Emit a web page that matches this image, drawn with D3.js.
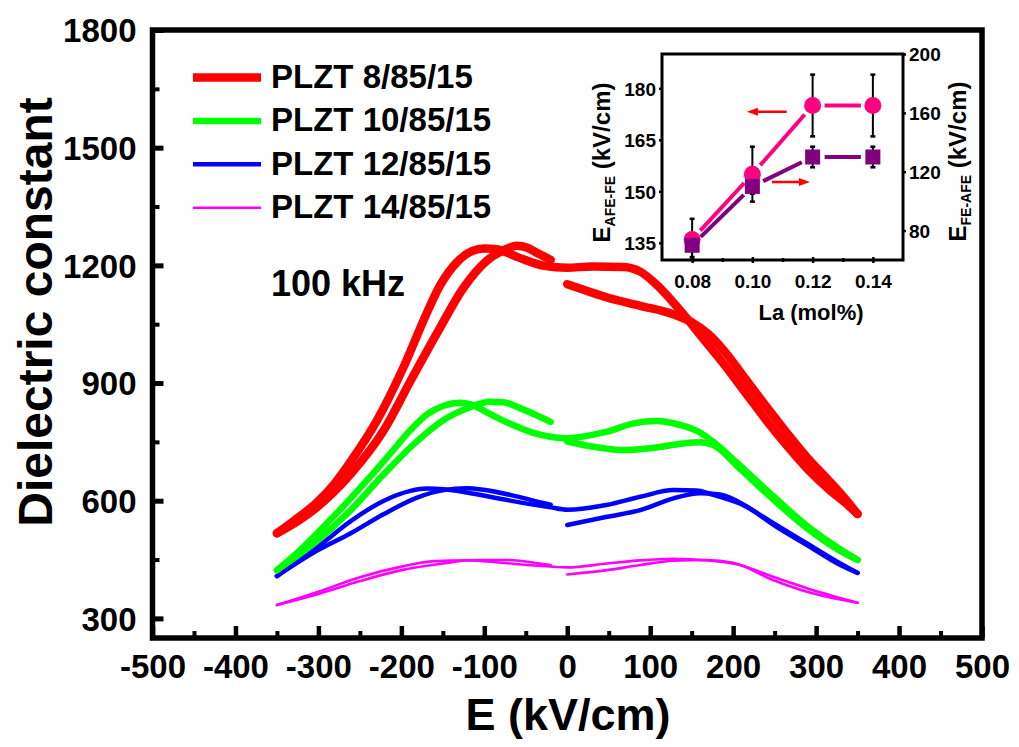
<!DOCTYPE html>
<html>
<head>
<meta charset="utf-8">
<script src="https://cdn.jsdelivr.net/npm/d3@7"></script>
<style>
  html, body { margin: 0; padding: 0; background: #fff; }
  svg text { font-family: "Liberation Sans", Arial, Helvetica, sans-serif; font-weight: bold; fill: #000; }
</style>
</head>
<body>
<svg id="chart" width="1019" height="747"></svg>
<script>
// ---- Main panel: dielectric constant vs. field, 100 kHz ----
const sampleNames = ["PLZT 8/85/15", "PLZT 10/85/15", "PLZT 12/85/15", "PLZT 14/85/15"];
const sampleColors = ["#ff0000", "#00ff00", "#0000ff", "#ff00ff"];

// [E (kV/cm), dielectric constant]; A runs -350 → +350, B is the other negative branch, C the other positive branch
const pl8_A = [[-350,517],[-330,548],[-302,595],[-280,645],[-261,700],[-229,806],[-197,942],[-169,1080],[-153,1150],[-133,1208],[-115,1236],[-100,1243],[-85,1241],[-61,1222],[-28,1199],[0,1194],[30,1197],[68,1196],[88,1184],[108,1150],[128,1105],[144,1065],[165,1010],[190,945],[215,875],[240,805],[265,740],[290,680],[315,630],[335,595],[350,566]];
const pl8_B = [[-350,517],[-325,548],[-302,583],[-261,668],[-221,780],[-189,905],[-157,1027],[-125,1143],[-97,1212],[-77,1238],[-61,1250],[-48,1245],[-35,1230],[-20,1214]];
const pl8_C = [[0,1152],[25,1134],[48,1118],[88,1097],[128,1075],[150,1055],[170,1025],[190,980],[215,910],[240,840],[265,772],[290,708],[315,652],[335,605],[350,566]];

const pl10_A = [[-350,423],[-322,474],[-282,559],[-241,653],[-213,721],[-189,780],[-169,820],[-149,842],[-129,850],[-117,846],[-101,830],[-81,808],[-61,789],[-41,773],[-20,763],[0,759],[25,766],[48,776],[80,797],[108,803],[136,793],[160,774],[176,750],[208,690],[248,612],[289,536],[329,476],[350,449]];
const pl10_B = [[-350,423],[-302,497],[-261,576],[-221,668],[-181,752],[-149,806],[-121,835],[-93,852],[-77,851],[-57,836],[-37,818],[-20,801]];
const pl10_C = [[0,751],[28,739],[68,729],[108,736],[140,746],[160,749],[176,742],[208,682],[248,604],[289,530],[329,472],[350,449]];

const pl12_A = [[-350,408],[-302,480],[-261,548],[-221,600],[-189,625],[-169,631],[-149,629],[-121,621],[-81,605],[-41,590],[-20,583],[0,577],[47,589],[88,610],[128,627],[156,626],[176,615],[208,593],[249,542],[289,491],[329,440],[350,416]];
const pl12_B = [[-350,408],[-302,472],[-261,517],[-221,566],[-181,608],[-149,627],[-121,632],[-101,628],[-61,611],[-31,595],[-20,590]];
const pl12_C = [[0,538],[48,559],[88,576],[128,606],[160,619],[184,616],[216,586],[249,538],[289,487],[329,436],[350,416]];

const pl14_A = [[-350,334],[-300,368],[-250,405],[-200,432],[-160,446],[-120,448],[-80,442],[-40,435],[0,430],[48,440],[88,448],[128,452],[168,448],[208,436],[248,406],[289,377],[350,340]];
const pl14_B = [[-350,334],[-300,362],[-250,395],[-200,423],[-150,440],[-110,449],[-70,449],[-40,442],[-20,436]];
const pl14_C = [[0,412],[48,423],[88,436],[128,447],[168,449],[200,442],[248,398],[289,368],[350,340]];

const xTicksMajor = [-500,-400,-300,-200,-100,0,100,200,300,400,500];
const xTicksMinor = [-450,-350,-250,-150,-50,50,150,250,350,450];
const yTicksMajor = [300,600,900,1200,1500,1800];
const yTicksMinor = [450,750,1050,1350,1650];

// ---- Inset: switching fields vs. La content ----
const laContent = [0.08, 0.10, 0.12, 0.14];
const eAfeFe = [136, 155, 175, 175];
const eAfeFeErr = [6, 8, 9, 9];
const eFeAfe = [70, 110, 130, 130];
const eFeAfeErr = [8, 5, 7, 7];
const insetXTicks = [0.08, 0.10, 0.12, 0.14];
const insetXMinor = [0.09, 0.11, 0.13];
const insetLeftTicks = [135, 150, 165, 180];
const insetRightTicks = [80, 120, 160, 200];

const svg = d3.select("#chart");

const x = d3.scaleLinear().domain([-500, 500]).range([152.5, 982]);
const y = d3.scaleLinear().domain([250, 1800]).range([638, 30]);

const series = [
  { name: sampleNames[0], color: sampleColors[0], width: 8.5, paths: [pl8_A, pl8_B, pl8_C] },
  { name: sampleNames[1], color: sampleColors[1], width: 6.5, paths: [pl10_A, pl10_B, pl10_C] },
  { name: sampleNames[2], color: sampleColors[2], width: 4.5, paths: [pl12_A, pl12_B, pl12_C] },
  { name: sampleNames[3], color: sampleColors[3], width: 2.6, paths: [pl14_A, pl14_B, pl14_C] }
];

const line = d3.line().x(d => x(d[0])).y(d => y(d[1])).curve(d3.curveMonotoneX);

// curves, thinnest first so the heavy red traces sit on top
series.slice().reverse().forEach(s => {
  s.paths.forEach(p => {
    svg.append("path")
      .attr("d", line(p))
      .attr("fill", "none")
      .attr("stroke", s.color)
      .attr("stroke-width", s.width)
      .attr("stroke-linecap", "round")
      .attr("stroke-linejoin", "round");
  });
});

// axes (ticks point inward)
function styleAxis(g, w) {
  g.attr("font-family", null).attr("font-size", null);
  g.select(".domain").remove();
  g.selectAll(".tick line").attr("stroke", "#000").attr("stroke-width", w);
}

const gy = svg.append("g").attr("transform", `translate(${x(-500)},0)`)
  .call(d3.axisLeft(y).tickValues(yTicksMajor).tickSize(-11).tickPadding(16).tickFormat(d => String(d)));
styleAxis(gy, 5);
gy.selectAll(".tick text").attr("font-size", 33).attr("dy", "0.36em");

const gyMinor = svg.append("g").attr("transform", `translate(${x(-500)},0)`)
  .call(d3.axisLeft(y).tickValues(yTicksMinor).tickSize(-7).tickFormat(""));
styleAxis(gyMinor, 4);

const gx = svg.append("g").attr("transform", `translate(0,${y(250)})`)
  .call(d3.axisBottom(x).tickValues(xTicksMajor).tickSize(-12).tickFormat(d => String(d)));
styleAxis(gx, 4.5);
gx.selectAll(".tick text").attr("font-size", 33).attr("y", 40).attr("dy", 0);

const gxMinor = svg.append("g").attr("transform", `translate(0,${y(250)})`)
  .call(d3.axisBottom(x).tickValues(xTicksMinor).tickSize(-7).tickFormat(""));
styleAxis(gxMinor, 4);

// frame
svg.append("rect")
  .attr("x", x(-500)).attr("y", y(1800))
  .attr("width", x(500) - x(-500)).attr("height", y(250) - y(1800))
  .attr("fill", "none").attr("stroke", "#000").attr("stroke-width", 5.5);

// axis titles
svg.append("text")
  .attr("x", 568).attr("y", 730)
  .attr("text-anchor", "middle").attr("font-size", 45)
  .text("E (kV/cm)");

svg.append("text")
  .attr("transform", "translate(52,312) rotate(-90)")
  .attr("text-anchor", "middle").attr("font-size", 48)
  .text("Dielectric constant");

// frequency note
svg.append("text").attr("x", 271).attr("y", 296).attr("font-size", 36).text("100 kHz");

// legend
const legend = svg.append("g");
series.forEach((s, i) => {
  const base = 88 + i * 43.4;
  legend.append("line")
    .attr("x1", 193).attr("x2", 261)
    .attr("y1", base - 10.5).attr("y2", base - 10.5)
    .attr("stroke", s.color).attr("stroke-width", s.width);
  legend.append("text")
    .attr("x", 271).attr("y", base).attr("font-size", 33)
    .text(s.name);
});

// ---- inset ----
const ix = d3.scaleLinear().domain([0.07, 0.15]).range([662, 903]);
const iyL = d3.scaleLinear().domain([130, 190]).range([260, 54]);
const iyR = d3.scaleLinear().domain([60, 200]).range([260, 54]);
const inset = svg.append("g");

const giL = inset.append("g").attr("transform", `translate(${ix(0.07)},0)`)
  .call(d3.axisLeft(iyL).tickValues(insetLeftTicks).tickSize(3).tickPadding(3).tickFormat(d => String(d)));
styleAxis(giL, 2.5);
giL.selectAll(".tick text").attr("font-size", 19).attr("dy", "0.36em");

const giR = inset.append("g").attr("transform", `translate(${ix(0.15)},0)`)
  .call(d3.axisRight(iyR).tickValues(insetRightTicks).tickSize(3).tickPadding(3).tickFormat(d => String(d)));
styleAxis(giR, 2.5);
giR.selectAll(".tick text").attr("font-size", 19).attr("dy", "0.36em");

const giB = inset.append("g").attr("transform", `translate(0,${iyL(130)})`)
  .call(d3.axisBottom(ix).tickValues(insetXTicks).tickSize(3).tickPadding(3).tickFormat(d3.format(".2f")));
styleAxis(giB, 2.5);
giB.selectAll(".tick text").attr("font-size", 19).attr("y", 28).attr("dy", 0);
giB.selectAll(".tick line").attr("y1", -3);

const giBm = inset.append("g").attr("transform", `translate(0,${iyL(130)})`)
  .call(d3.axisBottom(ix).tickValues(insetXMinor).tickSize(2).tickFormat(""));
styleAxis(giBm, 2.5);
giBm.selectAll(".tick line").attr("y1", -2);

inset.append("rect")
  .attr("x", ix(0.07)).attr("y", iyL(190))
  .attr("width", ix(0.15) - ix(0.07)).attr("height", iyL(130) - iyL(190))
  .attr("fill", "none").attr("stroke", "#000").attr("stroke-width", 3);

// connecting segments that stop short of the markers
function gappedSegments(xs, ys, scaleY, color, gap) {
  for (let i = 0; i < xs.length - 1; i++) {
    const x1 = ix(xs[i]), y1 = scaleY(ys[i]), x2 = ix(xs[i + 1]), y2 = scaleY(ys[i + 1]);
    const len = Math.hypot(x2 - x1, y2 - y1);
    const ux = (x2 - x1) / len, uy = (y2 - y1) / len;
    inset.append("line")
      .attr("x1", x1 + ux * gap).attr("y1", y1 + uy * gap)
      .attr("x2", x2 - ux * gap).attr("y2", y2 - uy * gap)
      .attr("stroke", color).attr("stroke-width", 4);
  }
}
function errorBars(xs, ys, errs, scaleY) {
  xs.forEach((v, i) => {
    const cx = ix(v), top = scaleY(ys[i] + errs[i]), bot = scaleY(ys[i] - errs[i]);
    inset.append("line").attr("x1", cx).attr("x2", cx).attr("y1", top).attr("y2", bot)
      .attr("stroke", "#000").attr("stroke-width", 2);
    [top, bot].forEach(yy => inset.append("line")
      .attr("x1", cx - 2.5).attr("x2", cx + 2.5).attr("y1", yy).attr("y2", yy)
      .attr("stroke", "#000").attr("stroke-width", 2.5));
  });
}

const pink = "#ff0080", purple = "#800080";
gappedSegments(laContent, eAfeFe, iyL, pink, 12);
gappedSegments(laContent, eFeAfe, iyR, purple, 12);
errorBars(laContent, eAfeFe, eAfeFeErr, iyL);
errorBars(laContent, eFeAfe, eFeAfeErr, iyR);

inset.selectAll("circle.afe").data(laContent).enter().append("circle")
  .attr("cx", d => ix(d)).attr("cy", (d, i) => iyL(eAfeFe[i])).attr("r", 8.5)
  .attr("fill", pink);
inset.selectAll("rect.fe").data(laContent).enter().append("rect")
  .attr("x", d => ix(d) - 7.5).attr("y", (d, i) => iyR(eFeAfe[i]) - 7.5)
  .attr("width", 15).attr("height", 15).attr("fill", purple);

// arrows pointing to the matching axis
function arrow(xFrom, xTo, yPix) {
  const x1 = ix(xFrom), x2 = ix(xTo), dir = Math.sign(x2 - x1);
  inset.append("line").attr("x1", x1).attr("x2", x2 - dir * 8).attr("y1", yPix).attr("y2", yPix)
    .attr("stroke", "#ff0000").attr("stroke-width", 2.5);
  inset.append("path")
    .attr("d", `M${x2},${yPix} L${x2 - dir * 11},${yPix - 4} L${x2 - dir * 11},${yPix + 4} Z`)
    .attr("fill", "#ff0000");
}
arrow(0.1114, 0.0982, iyL(173.2));
arrow(0.1065, 0.1191, iyR(113));

// inset axis titles
const tl = inset.append("text")
  .attr("transform", "translate(610,162.5) rotate(-90)")
  .attr("text-anchor", "middle").attr("font-size", 24);
tl.append("tspan").text("E");
tl.append("tspan").attr("font-size", 14).attr("dy", 5).text("AFE-FE");
tl.append("tspan").attr("dy", -5).text(" (kV/cm)");

const tr = inset.append("text")
  .attr("transform", "translate(966,161.5) rotate(-90)")
  .attr("text-anchor", "middle").attr("font-size", 24);
tr.append("tspan").text("E");
tr.append("tspan").attr("font-size", 14).attr("dy", 5).text("FE-AFE");
tr.append("tspan").attr("dy", -5).text(" (kV/cm)");

inset.append("text")
  .attr("x", 811).attr("y", 320).attr("text-anchor", "middle").attr("font-size", 22)
  .text("La (mol%)");
</script>
</body>
</html>
